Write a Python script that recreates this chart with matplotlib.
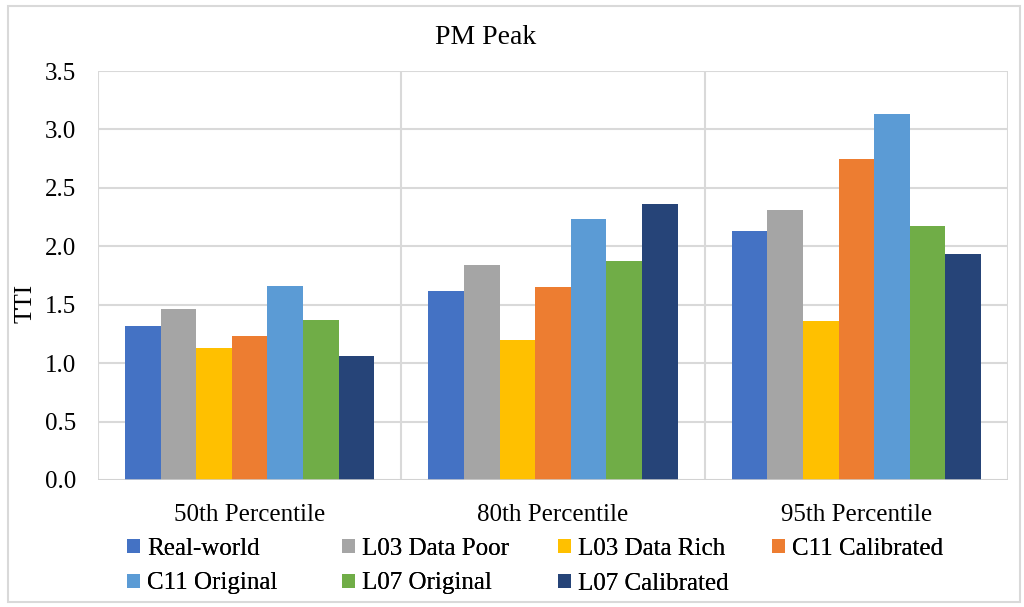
import matplotlib
matplotlib.use("Agg")
import matplotlib.pyplot as plt
import numpy as np
from matplotlib.patches import Rectangle

plt.rcParams['font.family'] = ['Liberation Serif', 'DejaVu Serif']

categories = ["50th Percentile", "80th Percentile", "95th Percentile"]
series_names = ["Real-world", "L03 Data Poor", "L03 Data Rich", "C11 Calibrated",
                "C11 Original", "L07 Original", "L07 Calibrated"]
real_world = [1.32, 1.62, 2.13]
l03_data_poor = [1.46, 1.84, 2.31]
l03_data_rich = [1.13, 1.20, 1.36]
c11_calibrated = [1.23, 1.65, 2.75]
c11_original = [1.66, 2.23, 3.13]
l07_original = [1.37, 1.87, 2.17]
l07_calibrated = [1.06, 2.36, 1.93]
yticks = [0.0, 0.5, 1.0, 1.5, 2.0, 2.5, 3.0, 3.5]

series = [real_world, l03_data_poor, l03_data_rich, c11_calibrated,
          c11_original, l07_original, l07_calibrated]
colors = ["#4472C4", "#A5A5A5", "#FFC000", "#ED7D31", "#5B9BD5", "#70AD47", "#264478"]

W, H = 1024, 607
fig = plt.figure(figsize=(W / 100, H / 100), dpi=100)
ax = fig.add_axes([98 / W, 1 - 480 / H, 910 / W, 409 / H])

n = len(series)
bar_w = 0.1175
x = np.arange(len(categories))
handles = []
for i, (vals, col, name) in enumerate(zip(series, colors, series_names)):
    offs = (i - (n - 1) / 2) * bar_w
    bars = ax.bar(x + offs, vals, width=bar_w, color=col, label=name, zorder=3,
                  edgecolor='none')
    handles.append(bars)

ax.set_xlim(-0.5, 2.5)
ax.set_ylim(0, 3.5)
ax.set_yticks(yticks)
ax.set_yticklabels([f"{v:.1f}" for v in yticks], fontsize=18)
ax.set_xticks(x)
ax.set_xticklabels(categories, fontsize=18)
ax.set_xticks([-0.5, 0.5, 1.5, 2.5], minor=True)
ax.tick_params(axis='both', which='both', length=0)
ax.tick_params(axis='y', pad=16)
ax.tick_params(axis='x', pad=17)
ax.grid(axis='y', which='major', color='#D9D9D9', linewidth=1.5, zorder=0)
ax.grid(axis='x', which='minor', color='#D9D9D9', linewidth=1.5, zorder=0)
for s in ax.spines.values():
    s.set_visible(False)
ax.axhline(0, color='#D0D0D0', linewidth=1.8, zorder=4)

ax.set_ylabel("TTI", fontsize=18)
ax.yaxis.set_label_coords(37 / W, 0.5, transform=fig.transFigure)

fig.text(486 / W, 1 - 37 / H, "PM Peak", fontsize=20, ha='center', va='center')

# legend: four equal-width columns, two rows, filled row by row
col_x = [127, 342, 558, 772]
for j, cx in enumerate(col_x):
    idx = [k for k in (j, j + 4) if k < n]
    leg = fig.legend([handles[k] for k in idx], [series_names[k] for k in idx],
                     loc='upper left', bbox_to_anchor=(cx / W, 1 - 538 / H),
                     frameon=False, fontsize=18, handlelength=0.5, handleheight=0.5,
                     handletextpad=0.3, labelspacing=0.5, borderaxespad=0,
                     borderpad=0)
    fig.add_artist(leg)

fig.add_artist(Rectangle((8 / W, 5 / H), 1012 / W, 596 / H, transform=fig.transFigure,
                         fill=False, edgecolor='#D9D9D9', linewidth=1.5))

fig.savefig("out.png", dpi=100)
